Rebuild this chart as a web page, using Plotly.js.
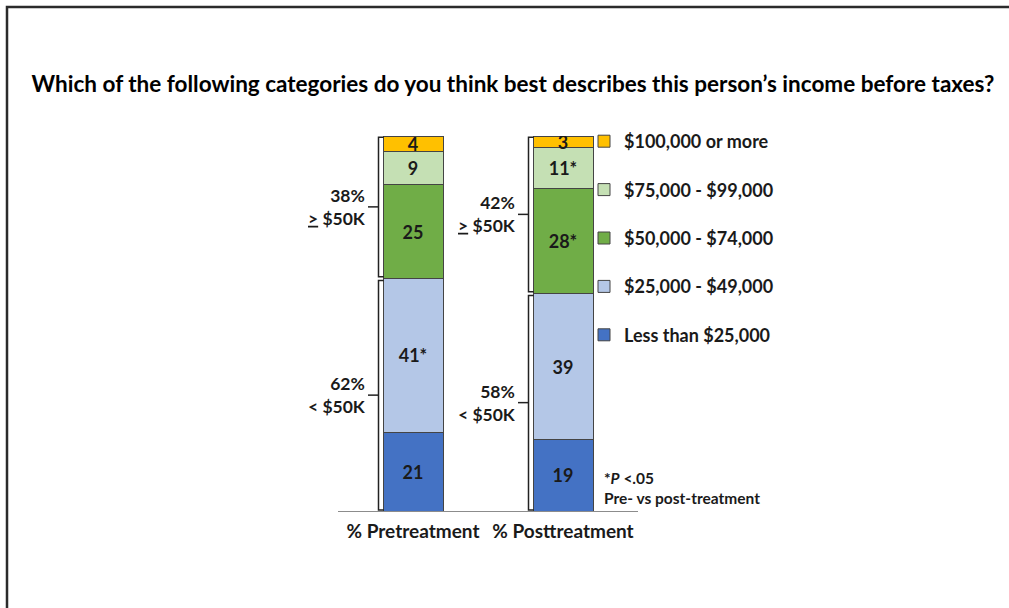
<!DOCTYPE html>
<html><head><meta charset="utf-8">
<script src="https://cdn.plot.ly/plotly-3.0.1.min.js"></script>
<style>html,body{margin:0;padding:0;background:#fff;} #chart{width:1009px;height:608px;}</style>
</head><body><div id="chart"></div>
<script>
// ---- data ----
const categories = ['% Pretreatment', '% Posttreatment'];
const seriesNames = ['Less than $25,000', '$25,000 - $49,000', '$50,000 - $74,000', '$75,000 - $99,000', '$100,000 or more'];
const lessThan25k = [21, 19];
const from25kTo49k = [41, 39];
const from50kTo74k = [25, 28];
const from75kTo99k = [9, 11];
const over100k = [4, 3];
// significance flags (*P < .05, pre vs post-treatment)
const sigLessThan25k = [false, false];
const sig25kTo49k = [true, false];
const sig50kTo74k = [false, true];
const sig75kTo99k = [false, true];
const sigOver100k = [false, false];
const titleText = 'Which of the following categories do you think best describes this person\u2019s income before taxes?';
const footnoteText = '*<i>P</i> &lt;.05<br>Pre- vs post-treatment';

// ---- styling ----
const FONT = 'Lato, "Open Sans", sans-serif';
const colors = ['#4472C4', '#B4C7E7', '#70AD47', '#C5E0B4', '#FFC000'];
const W = 1009, H = 608;
const M = {l: 338, r: 371, t: 136, b: 97};
const PW = W - M.l - M.r, PH = H - M.t - M.b;
const px2paperX = p => (p - M.l) / PW;
const py2paperY = p => (H - M.b - p) / PH;

const xs = categories.map((c, i) => i);
const seriesVals = [lessThan25k, from25kTo49k, from50kTo74k, from75kTo99k, over100k];
const seriesSig = [sigLessThan25k, sig25kTo49k, sig50kTo74k, sig75kTo99k, sigOver100k];

const traces = seriesVals.map((vals, s) => ({
  type: 'bar',
  name: seriesNames[s],
  legendgroup: 'g' + s,
  legendrank: 1000 - s,
  x: xs,
  y: vals,
  width: 0.4,
  marker: {color: colors[s], line: {color: '#444', width: 1}},
  text: vals.map((v, i) => String(v) + (seriesSig[s][i] ? '*' : '')),
  textposition: 'inside',
  insidetextanchor: 'middle',
  textangle: 0,
  constraintext: 'none',
  textfont: {family: FONT, size: 18, color: '#1a1a1a', weight: 'bold'},
  hoverinfo: 'skip'
}));

// brackets: lower group = first two series, upper group = remaining three
const shapes = [];
const annotations = [];
const barHalf = 0.2, vOff = 0.23, tickOff = 0.30, gap = 0.5;
xs.forEach((x, i) => {
  const low = lessThan25k[i] + from25kTo49k[i];
  const high = from50kTo74k[i] + from75kTo99k[i] + over100k[i];
  const total = low + high;
  const groups = [
    {y0: 0.3, y1: low - gap, pct: low, label: '&lt; $50K'},
    {y0: low + gap, y1: total - 0.3, pct: high, label: '<u>&gt;</u> $50K'}
  ];
  groups.forEach(g => {
    const xv = x - vOff, xh = x - barHalf + 0.005, xt = x - tickOff;
    const ym = (g.y0 + g.y1) / 2;
    shapes.push({type: 'path', xref: 'x', yref: 'y',
      path: `M${xh},${g.y1} L${xv},${g.y1} L${xv},${g.y0} L${xh},${g.y0}`,
      line: {color: '#222', width: 1.5}});
    shapes.push({type: 'line', xref: 'x', yref: 'y', x0: xv, x1: xt, y0: ym, y1: ym,
      line: {color: '#222', width: 1.5}});
    annotations.push({xref: 'x', yref: 'y', x: xt, y: ym, xanchor: 'right', yanchor: 'middle',
      align: 'right', showarrow: false, text: g.pct + '%<br>' + g.label,
      font: {family: FONT, size: 17.5, color: '#1a1a1a', weight: 'bold'}});
  });
});

annotations.push({xref: 'paper', yref: 'paper', x: px2paperX(603), y: py2paperY(488),
  xanchor: 'left', yanchor: 'middle', align: 'left', showarrow: false, borderpad: 0, text: footnoteText,
  font: {family: FONT, size: 15.5, color: '#1a1a1a', weight: 'bold'}});

// outer frame (left & top border)
shapes.push({type: 'path', xref: 'paper', yref: 'paper',
  path: `M${px2paperX(7)},${py2paperY(H + 5)} L${px2paperX(7)},${py2paperY(7)} L${px2paperX(W + 5)},${py2paperY(7)}`,
  line: {color: '#2b2b2b', width: 2.5}});

const layout = {
  width: W, height: H,
  margin: M,
  paper_bgcolor: '#fff', plot_bgcolor: '#fff',
  barmode: 'stack',
  hovermode: false,
  showlegend: true,
  title: {text: titleText, x: 513 / W, xanchor: 'center', y: 1 - 84 / H, yanchor: 'middle',
    font: {family: FONT, size: 22.5, color: '#000', weight: 'bold'}},
  xaxis: {range: [-0.5, 1.5], tickvals: xs, ticktext: categories, showline: true, linecolor: '#8c8c8c',
    linewidth: 1, ticks: '', showgrid: false, zeroline: false, fixedrange: true,
    tickfont: {family: FONT, size: 19, color: '#1a1a1a', weight: 'bold'}, ticklabelstandoff: 3},
  yaxis: {range: [0, 100], showgrid: false, zeroline: false, showline: false, showticklabels: false,
    ticks: '', fixedrange: true},
  legend: {x: px2paperX(584), xanchor: 'left', y: py2paperY(123), yanchor: 'top',
    traceorder: 'grouped', tracegroupgap: 22, bgcolor: 'rgba(0,0,0,0)',
    font: {family: FONT, size: 18, color: '#1a1a1a', weight: 'bold'}},
  shapes: shapes,
  annotations: annotations
};

Plotly.newPlot('chart', traces, layout, {displayModeBar: false, staticPlot: true});
</script>
</body></html>
